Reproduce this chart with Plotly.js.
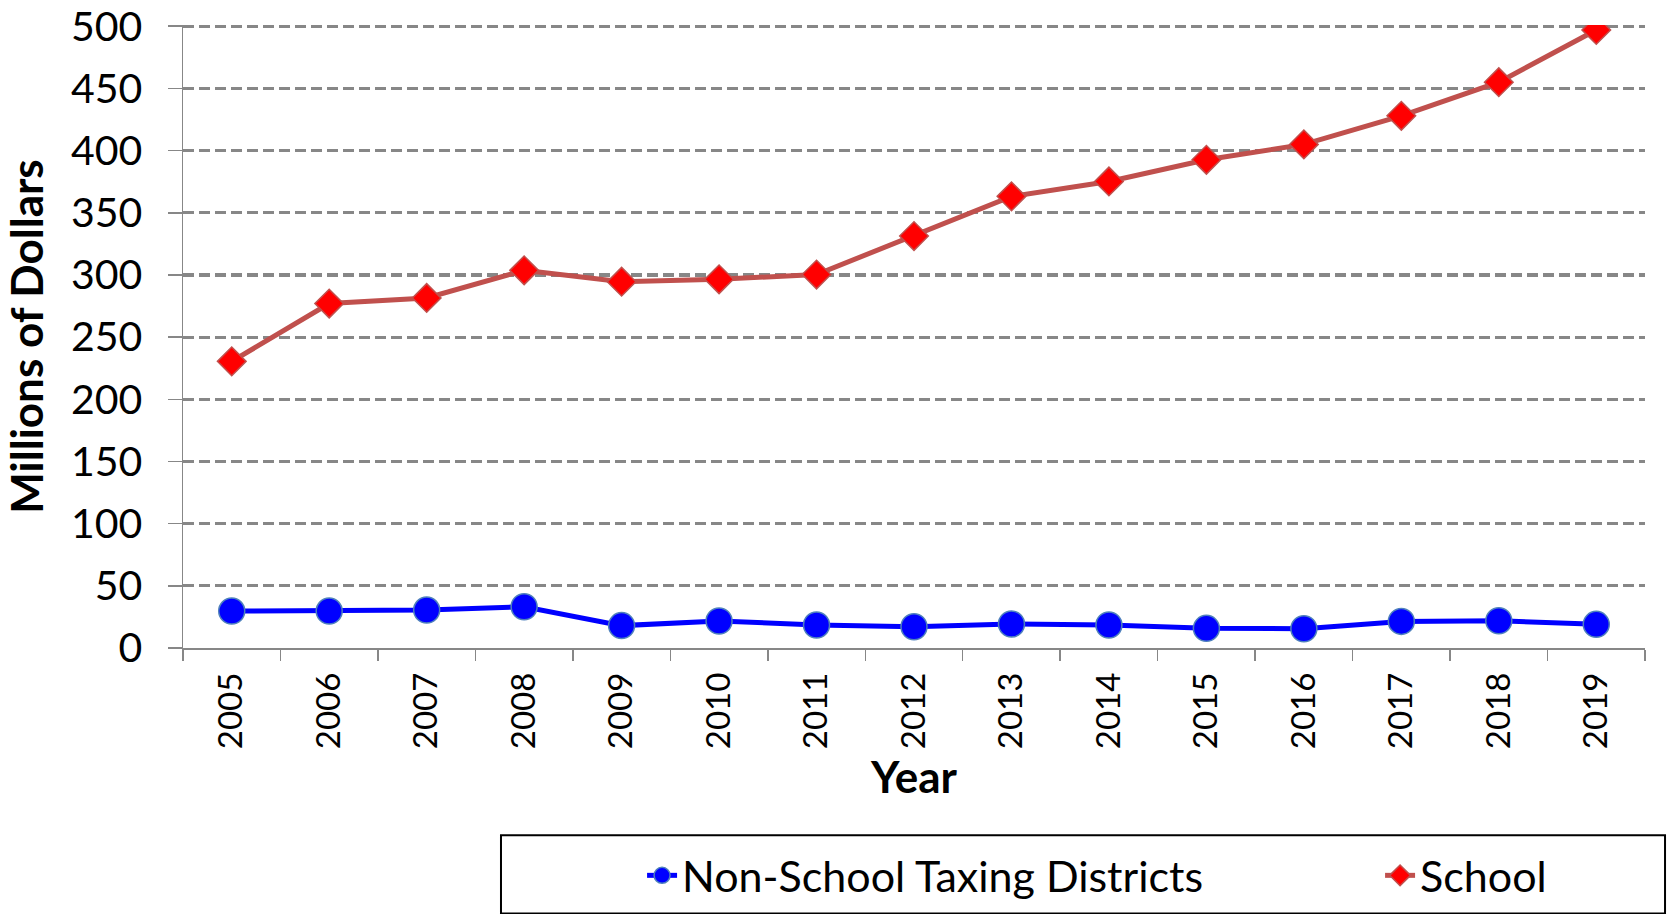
<!DOCTYPE html>
<html>
<head>
<meta charset="utf-8">
<script src="https://cdn.plot.ly/plotly-3.0.1.min.js"></script>
<style>
  html, body { margin: 0; padding: 0; background: #ffffff; }
  #chart { width: 1669px; height: 914px; }
</style>
</head>
<body>
<div id="chart"></div>
<script>
const years = ["2005","2006","2007","2008","2009","2010","2011","2012","2013","2014","2015","2016","2017","2018","2019"];
const nonSchool = [29.7, 29.7, 30.5, 33.2, 18, 21.7, 18.5, 17.1, 19.3, 18.5, 15.8, 15.5, 21.4, 21.9, 19];
const school = [230.5, 277, 281.5, 303.7, 294.6, 296.5, 300.3, 331.3, 363.2, 375.2, 392.6, 405, 428, 455, 497];
const yTicks = [0, 50, 100, 150, 200, 250, 300, 350, 400, 450, 500];

const FONT = "Lato, 'Open Sans', sans-serif";
const GRAY = "#878787";

const traces = [
  {
    type: "scatter", mode: "lines+markers", name: "Non-School Taxing Districts",
    x: years, y: nonSchool,
    line: { color: "#0000FF", width: 5 },
    marker: { symbol: "circle", size: 26, color: "#0000FF", line: { color: "#4F81BD", width: 1.5 } },
    legendwidth: 693
  },
  {
    type: "scatter", mode: "lines+markers", name: "School",
    x: years, y: school,
    line: { color: "#C0504D", width: 5 },
    marker: { symbol: "diamond", size: 22, color: "#FF0000", line: { color: "#C0504D", width: 1.5 } }
  }
];

const layout = {
  width: 1669, height: 914,
  margin: { l: 183, r: 24, t: 25, b: 266, autoexpand: false },
  paper_bgcolor: "#ffffff", plot_bgcolor: "#ffffff",
  font: { family: FONT, color: "#000000" },
  showlegend: true,
  xaxis: {
    type: "category", range: [-0.5, 14.5],
    tickson: "boundaries", ticks: "outside", ticklen: 11, tickwidth: 1.5, tickcolor: GRAY,
    showline: true, linecolor: GRAY, linewidth: 1.5,
    showgrid: false, zeroline: false,
    tickangle: -90, tickfont: { family: FONT, size: 33, color: "#000" },
    ticklabelstandoff: 10,
    title: { text: "<b>Year</b>", font: { family: FONT, size: 44, color: "#000" }, standoff: 14 }
  },
  yaxis: {
    range: [0, 501], tickvals: yTicks, ticktext: yTicks.map(String),
    ticks: "outside", ticklen: 14, tickwidth: 1.5, tickcolor: GRAY,
    showline: true, linecolor: GRAY, linewidth: 1.5,
    showgrid: true, gridcolor: GRAY, gridwidth: 3.2, griddash: "11px,5px",
    zeroline: false,
    tickfont: { family: FONT, size: 41, color: "#000" },
    ticklabelstandoff: 17,
    title: { text: "<b>Millions of Dollars</b>", font: { family: FONT, size: 44, color: "#000" }, standoff: 14 }
  },
  legend: {
    orientation: "h", x: 0.314, xanchor: "left", y: -0.365, yanchor: "middle",
    bgcolor: "rgba(0,0,0,0)", borderwidth: 0,
    font: { family: FONT, size: 43, color: "#000" },
    itemsizing: "trace"
  },
  shapes: [
    { type: "rect", xref: "paper", yref: "paper", x0: 0.2175, x1: 1.0137, y0: -0.3006, y1: -0.426,
      line: { color: "#000000", width: 2 }, fillcolor: "rgba(0,0,0,0)" }
  ]
};

Plotly.newPlot("chart", traces, layout, { displayModeBar: false, staticPlot: true });
</script>
</body>
</html>
